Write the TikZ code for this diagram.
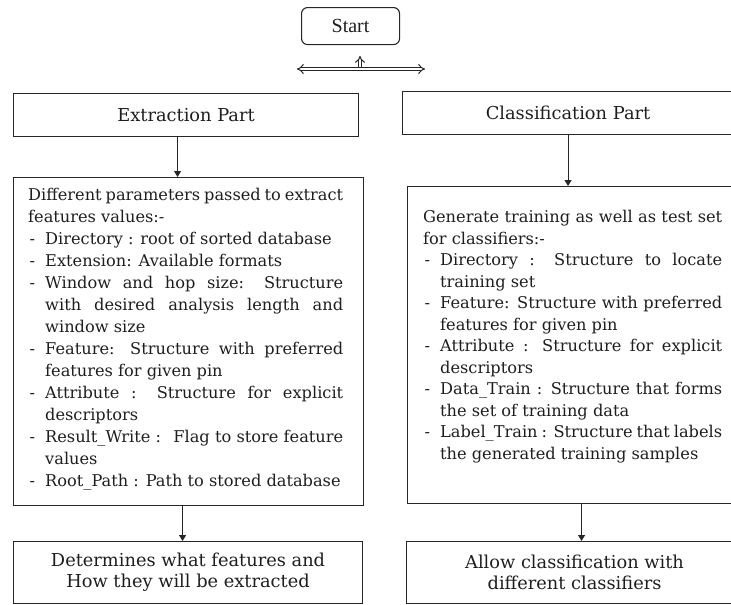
\documentclass[tikz,border=0pt]{standalone}
\usepackage{fontspec}
\setmainfont{DejaVu Serif}
\newfontfamily\startfont{Liberation Serif}
\usepackage{xcolor}
\definecolor{flowLine}{HTML}{262626}
\definecolor{flowText}{HTML}{1E1E1E}
\usetikzlibrary{arrows.meta}
\tolerance=10000
\newcommand{\dashitem}[1]{\par\noindent\hangindent=17pt\hangafter=1\makebox[17pt][l]{\hspace{1.5pt}-}#1\par}
\tikzset{
  flowbox/.style={draw=flowLine, line width=1.1pt, rectangle, inner sep=0pt, anchor=north west,
    text=flowText, align=center, font=\fontsize{17.8}{21}\selectfont},
  paramtext/.style={inner sep=0pt, anchor=north west, text=flowText, align=justify,
    font=\fontsize{16.2}{22}\selectfont},
  flowarrow/.style={draw=flowLine, line width=1.1pt, -{Triangle[length=6pt,width=7pt]}},
  splitarrow/.style={draw=flowLine, line width=1pt, double, double distance=2.4pt}
}

\begin{document}
\begin{tikzpicture}[x=1pt, y=-1pt]
  \clip (0,0) rectangle (731,605);
  \node[flowbox, rounded corners=6pt, minimum width=98pt, minimum height=37pt,
    font=\startfont\fontsize{20}{22}\selectfont] (start) at (301,7) {Start};
  \coordinate (splitL) at (297,69);
  \coordinate (splitR) at (425,69);
  \coordinate (splitM) at (360,67.2);
  \coordinate (splitTip) at (360,56);
  \draw[splitarrow, {Implies[scale=1.2]}-{Implies[scale=1.2]}] (splitL) -- (splitR);
  \draw[splitarrow, -{Implies[scale=1.2]}] (splitM) -- (splitTip);

  \node[flowbox, minimum width=345pt, minimum height=43pt] (extract) at (13,93) {Extraction Part};
  \node[flowbox, minimum width=331pt, minimum height=43pt] (classify) at (402,91) {Classification Part};
  \node[flowbox, minimum width=350pt, minimum height=328pt] (extractPar) at (13,177) {};
  \node[flowbox, minimum width=326pt, minimum height=317pt] (classifyPar) at (407,186) {};
  \node[flowbox, minimum width=349pt, minimum height=62pt] (extractOut) at (13,541)
    {Determines what features and\\How they will be extracted};
  \node[flowbox, minimum width=336pt, minimum height=62pt] (classifyOut) at (406,541)
    {Allow classification with\\different classifiers};

  \node[paramtext, text width=315pt] (extractList) at (28,188) {%
    Different parameters passed to extract\linebreak features values:-
    \dashitem{Directory : root of sorted database}
    \dashitem{Extension: Available formats}
    \dashitem{Window and hop size: Structure\linebreak with desired analysis length and\linebreak window size}
    \dashitem{Feature: Structure with preferred\linebreak features for given pin}
    \dashitem{Attribute : Structure for explicit\linebreak descriptors}
    \dashitem{Result\_Write : ~Flag to store feature\linebreak values}
    \dashitem{Root\_Path : Path to stored database}};
  \node[paramtext, text width=299pt, font=\fontsize{16.2}{21.5}\selectfont] (classifyList) at (423,210) {%
    Generate training as well as test set\linebreak for classifiers:-
    \dashitem{Directory : Structure to locate\linebreak training set}
    \dashitem{Feature: Structure with preferred\linebreak features for given pin}
    \dashitem{Attribute : Structure for explicit\linebreak descriptors}
    \dashitem{Data\_Train : Structure that forms\linebreak the set of training data}
    \dashitem{Label\_Train : Structure that labels\linebreak the generated training samples}};

  \draw[flowarrow] ([xshift=-8.5pt]extract.south) -- ([xshift=-8.5pt]extract.south |- extractPar.north);
  \draw[flowarrow] (classify.south) -- (classify.south |- classifyPar.north);
  \draw[flowarrow] ([xshift=-6pt]extractPar.south) -- ([xshift=-6pt]extractPar.south |- extractOut.north);
  \draw[flowarrow] ([xshift=11pt]classifyPar.south) -- ([xshift=11pt]classifyPar.south |- classifyOut.north);
\end{tikzpicture}
\end{document}
